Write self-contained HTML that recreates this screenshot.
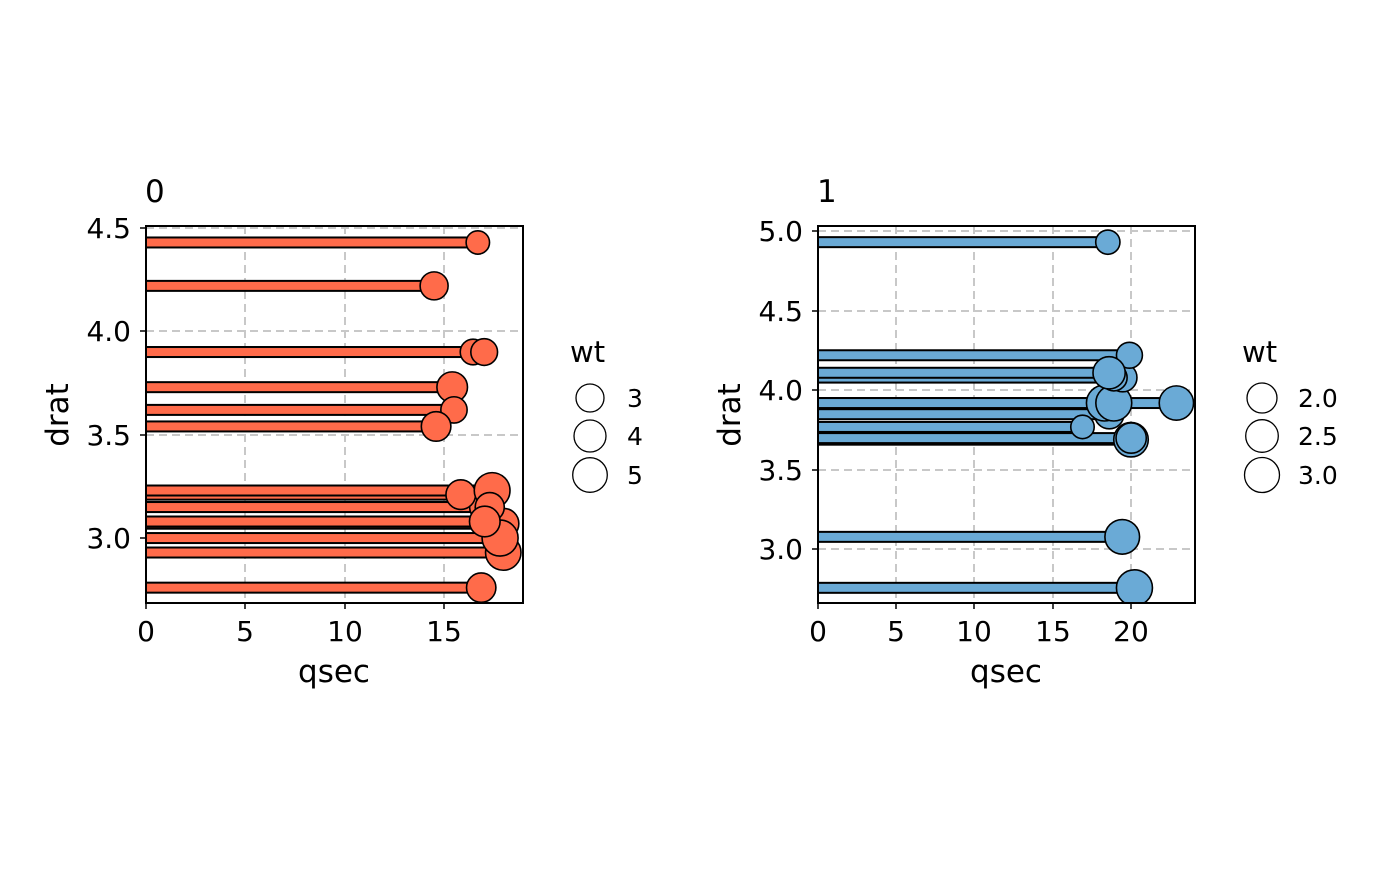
<!DOCTYPE html>
<html><head><meta charset="utf-8"><style>
body{margin:0;background:#fff}
text{font-family:"DejaVu Sans","Liberation Sans",sans-serif;fill:#000}
</style></head><body>
<svg id="s" width="1400" height="866" xmlns="http://www.w3.org/2000/svg">
<defs>
<clipPath id="c0"><rect x="146" y="226" width="377" height="377"/></clipPath>
<clipPath id="c1"><rect x="818" y="226" width="377" height="377"/></clipPath>
</defs>
<g stroke="#c8c8c8" stroke-width="2" stroke-dasharray="8,5">
<line x1="245" y1="226" x2="245" y2="603"/><line x1="345" y1="226" x2="345" y2="603"/><line x1="444" y1="226" x2="444" y2="603"/>
<line x1="146" y1="228" x2="523" y2="228"/><line x1="146" y1="331" x2="523" y2="331"/><line x1="146" y1="435" x2="523" y2="435"/><line x1="146" y1="538" x2="523" y2="538"/>
<line x1="896" y1="226" x2="896" y2="603"/><line x1="974" y1="226" x2="974" y2="603"/><line x1="1053" y1="226" x2="1053" y2="603"/><line x1="1131" y1="226" x2="1131" y2="603"/>
<line x1="818" y1="231" x2="1195" y2="231"/><line x1="818" y1="311" x2="1195" y2="311"/><line x1="818" y1="390" x2="1195" y2="390"/><line x1="818" y1="470" x2="1195" y2="470"/><line x1="818" y1="549" x2="1195" y2="549"/>
</g>
<g id="p0" clip-path="url(#c0)"></g>
<g id="p1" clip-path="url(#c1)"></g>
<g fill="none" stroke="#000" stroke-width="2">
<rect x="146" y="226" width="377" height="377"/>
<rect x="818" y="226" width="377" height="377"/>
</g>
<g stroke="#000" stroke-width="1.5">
<line x1="146" y1="603" x2="146" y2="609"/><line x1="245" y1="603" x2="245" y2="609"/><line x1="345" y1="603" x2="345" y2="609"/><line x1="444" y1="603" x2="444" y2="609"/>
<line x1="140" y1="228" x2="146" y2="228"/><line x1="140" y1="331" x2="146" y2="331"/><line x1="140" y1="435" x2="146" y2="435"/><line x1="140" y1="538" x2="146" y2="538"/>
<line x1="818" y1="603" x2="818" y2="609"/><line x1="896" y1="603" x2="896" y2="609"/><line x1="974" y1="603" x2="974" y2="609"/><line x1="1053" y1="603" x2="1053" y2="609"/><line x1="1131" y1="603" x2="1131" y2="609"/>
<line x1="812" y1="231" x2="818" y2="231"/><line x1="812" y1="311" x2="818" y2="311"/><line x1="812" y1="390" x2="818" y2="390"/><line x1="812" y1="470" x2="818" y2="470"/><line x1="812" y1="549" x2="818" y2="549"/>
</g>
<g font-size="28">
<text x="145" y="202" font-size="31">0</text>
<text x="817" y="202" font-size="31">1</text>
<g text-anchor="middle">
<text x="146" y="641">0</text><text x="245" y="641">5</text><text x="345" y="641">10</text><text x="444" y="641">15</text>
<text x="818" y="641">0</text><text x="896" y="641">5</text><text x="974" y="641">10</text><text x="1053" y="641">15</text><text x="1131" y="641">20</text>
<text x="334" y="682" font-size="31">qsec</text><text x="1006" y="682" font-size="31">qsec</text>
</g>
<g text-anchor="end">
<text x="131" y="238">4.5</text><text x="131" y="341">4.0</text><text x="131" y="445">3.5</text><text x="131" y="548">3.0</text>
<text x="803" y="241">5.0</text><text x="803" y="321">4.5</text><text x="803" y="400">4.0</text><text x="803" y="480">3.5</text><text x="803" y="559">3.0</text>
</g>
<text transform="translate(68,415) rotate(-90)" text-anchor="middle" font-size="31">drat</text>
<text transform="translate(740,415) rotate(-90)" text-anchor="middle" font-size="31">drat</text>
<text x="570" y="362" font-size="29">wt</text>
<text x="1242" y="362" font-size="29">wt</text>
<g fill="none" stroke="#000" stroke-width="1.3">
<circle cx="590" cy="398" r="14"/><circle cx="590" cy="436" r="16"/><circle cx="590" cy="475" r="17.3"/>
<circle cx="1262" cy="398" r="15"/><circle cx="1262" cy="436" r="16.3"/><circle cx="1262" cy="475" r="17.5"/>
</g>
<g font-size="25">
<text x="627" y="407">3</text><text x="627" y="445">4</text><text x="627" y="484">5</text>
<text x="1298" y="407">2.0</text><text x="1298" y="445">2.5</text><text x="1298" y="484">3.0</text>
</g>
</g>
</svg>
<script>
var d0=[[3.90,16.46,2.62],[3.90,17.02,2.875],[3.15,17.02,3.44],[3.21,15.84,3.57],[3.07,17.4,4.07],[3.07,17.6,3.73],[3.07,18.0,3.78],[2.93,17.98,5.25],[3.00,17.82,5.424],[3.23,17.42,5.345],[2.76,16.87,3.52],[3.15,17.3,3.435],[3.73,15.41,3.84],[3.08,17.05,3.845],[4.43,16.7,2.14],[4.22,14.5,3.17],[3.62,15.5,2.77],[3.54,14.6,3.57]];
var d1=[[3.85,18.61,2.32],[3.08,19.44,3.215],[2.76,20.22,3.46],[3.69,20.0,3.19],[3.92,22.9,3.15],[3.92,18.3,3.44],[3.92,18.9,3.44],[4.08,19.47,2.2],[4.93,18.52,1.615],[4.22,19.9,1.835],[3.70,20.01,2.465],[4.08,18.9,1.935],[3.77,16.9,1.513],[4.11,18.6,2.78]];
var NS="http://www.w3.org/2000/svg";
function draw(g,d,x0,xs,y0,yv,ys,col,a,b){
 var G=document.getElementById(g);
 d.forEach(function(r){var y=y0+(yv-r[0])*ys;var e=document.createElementNS(NS,"rect");
 e.setAttribute("x",x0);e.setAttribute("y",y-5);e.setAttribute("width",r[1]*xs);e.setAttribute("height",10);
 e.setAttribute("fill",col);e.setAttribute("stroke","#000");e.setAttribute("stroke-width",2);G.appendChild(e);});
 d.forEach(function(r){var y=y0+(yv-r[0])*ys;var c=document.createElementNS(NS,"circle");
 c.setAttribute("cx",x0+r[1]*xs);c.setAttribute("cy",y);c.setAttribute("r",Math.sqrt(a+b*r[2]));
 c.setAttribute("fill",col);c.setAttribute("stroke","#000");c.setAttribute("stroke-width",1.6);G.appendChild(c);});
}
draw("p0",d0,146,19.87,228,4.5,206.7,"#ff6b4a",15,57);
draw("p1",d1,818,15.65,231,5.0,159.3,"#6aaad6",-8,96);
</script>
</body></html>
